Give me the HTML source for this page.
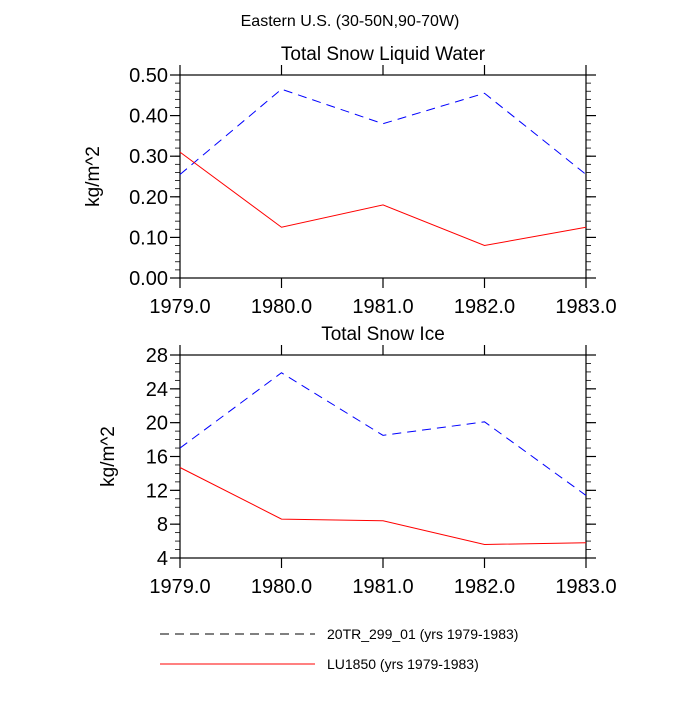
<!DOCTYPE html>
<html><head><meta charset="utf-8"><style>
body{margin:0;background:#fff}
svg text{font-family:"Liberation Sans",sans-serif;fill:#000}
</style></head><body>
<svg id="c" width="700" height="700"></svg>
<script>
const years=[1979,1980,1981,1982,1983];
const xTicks=["1979.0","1980.0","1981.0","1982.0","1983.0"];
const liqBlue=[0.255,0.465,0.38,0.455,0.255];
const liqRed=[0.31,0.125,0.18,0.08,0.125];
const iceBlue=[17.0,25.9,18.5,20.1,11.4];
const iceRed=[14.7,8.6,8.4,5.6,5.8];
const liqTicks=["0.00","0.10","0.20","0.30","0.40","0.50"];
const iceTicks=["4","8","12","16","20","24","28"];
const NS="http://www.w3.org/2000/svg";
const svg=document.getElementById('c');
function mk(t,a,p){const e=document.createElementNS(NS,t);for(const k in a)e.setAttribute(k,a[k]);(p||svg).appendChild(e);return e;}
const L=180,R=586;
function panel(name,top,bot,ymin,ymax,minorStep,ticks,title,blue,red,ytx){
  const g=mk('g',{});
  
  
  const xs=v=>L+(v-years[0])/(years[4]-years[0])*(R-L);
  const ys=v=>bot-(v-ymin)/(ymax-ymin)*(bot-top);
  const fr=mk('rect',{x:L,y:top,width:R-L,height:bot-top,fill:'none',stroke:'#000','stroke-width':1.2},g);
  
  for(let v=ymin;v<=ymax+1e-9;v+=minorStep){
    const y=ys(v);
    mk('line',{x1:L-5,x2:L,y1:y,y2:y,stroke:'#000','stroke-width':0.8},g);
    mk('line',{x1:R,x2:R+5,y1:y,y2:y,stroke:'#000','stroke-width':0.8},g);
  }
  ticks.forEach(t=>{const y=ys(parseFloat(t));
    mk('line',{x1:L-10,x2:L,y1:y,y2:y,stroke:'#000','stroke-width':1.2},g);
    mk('line',{x1:R,x2:R+10,y1:y,y2:y,stroke:'#000','stroke-width':1.2},g);
    const tx=mk('text',{x:L-12,y:y+7,'text-anchor':'end','font-size':20},g);tx.textContent=t;
    
  });
  years.forEach((yr,i)=>{const x=xs(yr);
    mk('line',{x1:x,x2:x,y1:bot,y2:bot+10,stroke:'#000','stroke-width':1.2},g);
    mk('line',{x1:x,x2:x,y1:top-10,y2:top,stroke:'#000','stroke-width':1.2},g);
    const tx=mk('text',{x:x,y:bot+35,'text-anchor':'middle','font-size':20},g);tx.textContent=xTicks[i];
    
  });
  const tt=mk('text',{x:(L+R)/2,y:top-15,'text-anchor':'middle','font-size':19},g);tt.textContent=title;
  
  const yl=mk('text',{x:0,y:0,'text-anchor':'middle','font-size':19,transform:`translate(${ytx},${(top+bot)/2}) rotate(-90)`},g);yl.textContent='kg/m^2';
  
  const pb=mk('polyline',{points:blue.map((v,i)=>xs(years[i])+','+ys(v)).join(' '),fill:'none',stroke:'#0000ff','stroke-width':1,'stroke-dasharray':'9,6'},g);
  
  const pr=mk('polyline',{points:red.map((v,i)=>xs(years[i])+','+ys(v)).join(' '),fill:'none',stroke:'#ff0000','stroke-width':1},g);
  
}
const mt=mk('text',{x:350,y:26,'text-anchor':'middle','font-size':16});mt.textContent='Eastern U.S. (30-50N,90-70W)';

panel('panel-liquid-water',75,278,0,0.5,0.02,liqTicks,'Total Snow Liquid Water',liqBlue,liqRed,99);
panel('panel-snow-ice',355,558,4,28,1,iceTicks,'Total Snow Ice',iceBlue,iceRed,114);
const lg=mk('g',{});

mk('line',{x1:160,x2:315,y1:634,y2:634,stroke:'#000','stroke-width':1,'stroke-dasharray':'9,6'},lg);
const l1=mk('text',{x:327,y:639,'font-size':14},lg);l1.textContent='20TR_299_01 (yrs 1979-1983)';

mk('line',{x1:160,x2:315,y1:664,y2:664,stroke:'#ff0000','stroke-width':1},lg);
const l2=mk('text',{x:327,y:669,'font-size':14},lg);l2.textContent='LU1850 (yrs 1979-1983)';

</script>
</body></html>
